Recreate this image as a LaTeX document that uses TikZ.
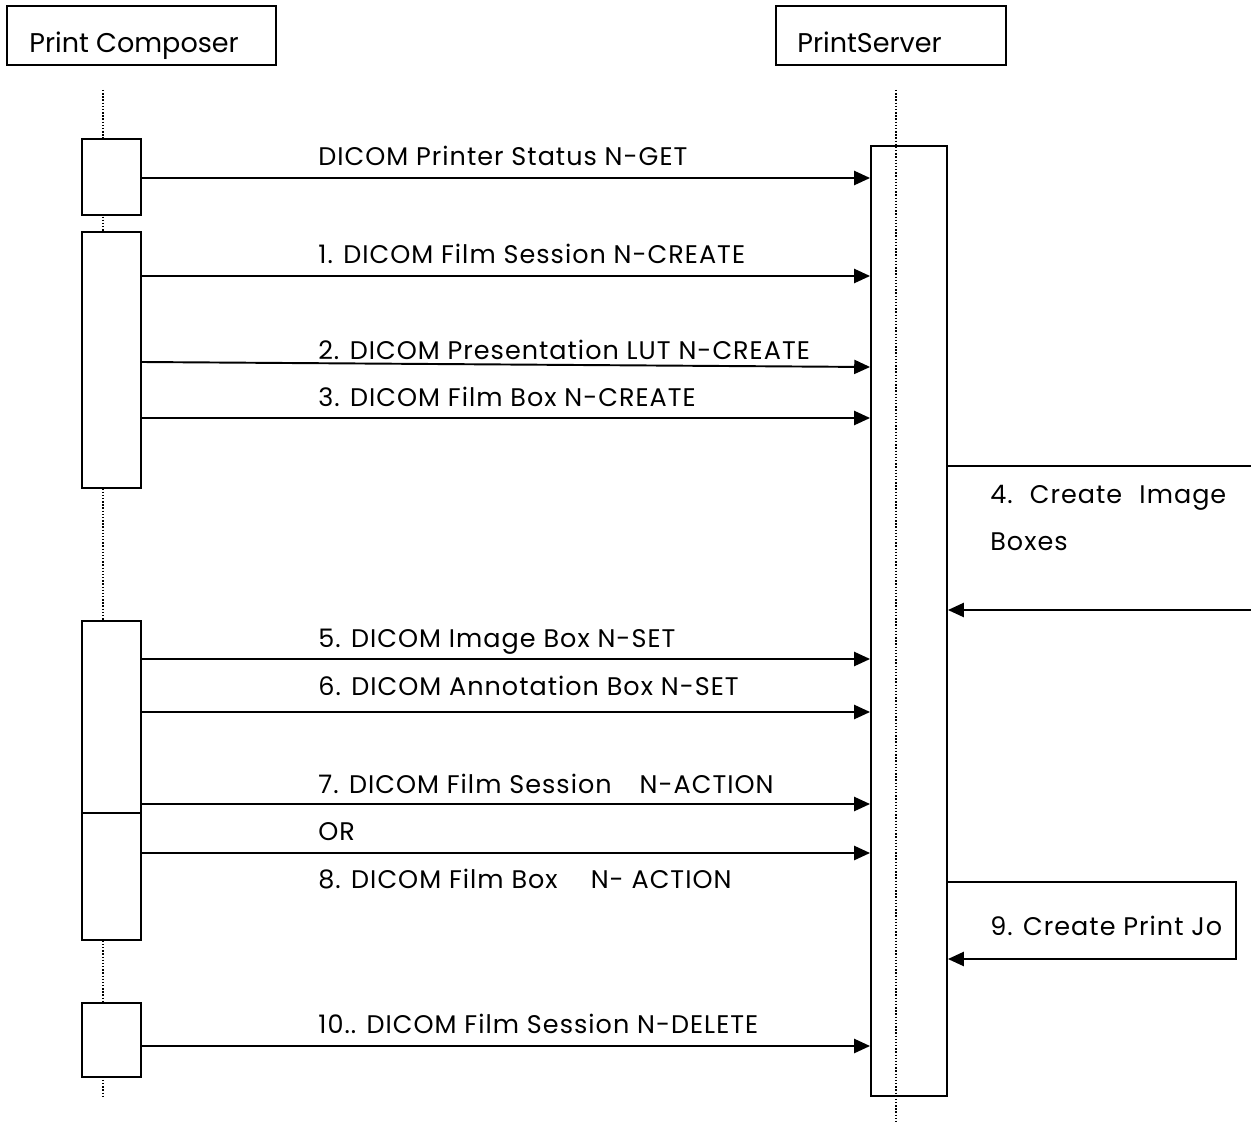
\documentclass[tikz,border=0pt]{standalone}
\usepackage{fontspec}
\setmainfont{Poppins}
\newfontfamily\msgfont[LetterSpace=4]{Poppins}
\usetikzlibrary{arrows.meta,fit}

\tikzset{
  headbox/.style={draw, line width=1.1pt, inner sep=0pt},
  bar/.style={draw, line width=1.1pt, fill=white, inner sep=0pt},
  lifeline/.style={densely dotted, line width=0.8pt},
  msg/.style={-{Triangle[length=9pt,width=8pt]}, line width=1.1pt},
  headtext/.style={anchor=base west, inner sep=0pt, font=\fontsize{15.4}{18}\selectfont},
  msgtext/.style={anchor=base west, inner sep=0pt, font=\msgfont\fontsize{14.5}{17}\selectfont},
}

\begin{document}
\begin{tikzpicture}[x=0.02cm, y=-0.02cm]
    \useasboundingbox (0,0) rectangle (1251,1122);
    % heads
    \node[headbox, fit={(7,6) (276,65)}] (pcHead) {};
    \node[headtext] (pcName) at (29,53) {Print Composer};
    \node[headbox, fit={(776,6) (1006,65)}] (psHead) {};
    \node[headtext] (psName) at (797,53) {PrintServer};
    % lifelines
    \coordinate (pcTop) at (103,90);
    \coordinate (pcEnd) at (103,1096);
    \coordinate (psTop) at (896,90);
    \coordinate (psEnd) at (896,1122);
    \draw[lifeline] (pcTop) -- (pcEnd);
    \draw[lifeline] (psTop) -- (psEnd);
    % activation bars
    \node[bar, fit={(82,139) (141,215)}] (pc1) {};
    \node[bar, fit={(82,232) (141,488)}] (pc2) {};
    \node[bar, fit={(82,621) (141,813)}] (pc3) {};
    \node[bar, fit={(82,813) (141,940)}] (pc4) {};
    \node[bar, fit={(82,1003) (141,1077)}] (pc5) {};
    \node[headbox, fit={(871,146) (947,1096)}] (ps) {};
    % messages
    \draw[msg] (pc1.east |- 0,178) -- (ps.west |- 0,178);
    \draw[msg] (pc2.east |- 0,276) -- (ps.west |- 0,276);
    \draw[msg] (pc2.east |- 0,362) -- (ps.west |- 0,367);
    \draw[msg] (pc2.east |- 0,418) -- (ps.west |- 0,418);
    \draw[msg] (pc3.east |- 0,659) -- (ps.west |- 0,659);
    \draw[msg] (pc3.east |- 0,712) -- (ps.west |- 0,712);
    \draw[msg] (pc3.east |- 0,804) -- (ps.west |- 0,804);
    \draw[msg] (pc4.east |- 0,853) -- (ps.west |- 0,853);
    \draw[msg] (pc5.east |- 0,1046) -- (ps.west |- 0,1046);
    \node[msgtext] (m0) at (318,166) {DICOM Printer Status N-GET};
    \node[msgtext] (m1) at (318,263) {1. DICOM Film Session N-CREATE};
    \node[msgtext] (m2) at (318,359) {2. DICOM Presentation LUT N-CREATE};
    \node[msgtext] (m3) at (318,406) {3. DICOM Film Box N-CREATE};
    \node[msgtext] (m5) at (318,647) {5. DICOM Image Box N-SET};
    \node[msgtext] (m6) at (318,695) {6. DICOM Annotation Box N-SET};
    \node[msgtext] (m7) at (318,793) {7. DICOM Film Session\hspace{1.1em}N-ACTION};
    \node[msgtext] (mOr) at (318,840) {OR};
    \node[msgtext] (m8) at (318,888) {8. DICOM Film Box\hspace{1.3em}N- ACTION};
    \node[msgtext] (m10) at (318,1033) {10.. DICOM Film Session N-DELETE};
    % self messages
    \coordinate (loop4a) at (1256,466);
    \coordinate (loop4b) at (1256,610);
    \draw[msg] (ps.east |- loop4a) -- (loop4a) -- (loop4b) -- (ps.east |- loop4b);
    \node[msgtext, text width=4.72cm, align=justify, font=\msgfont\fontsize{14.5}{27.3}\selectfont\frenchspacing] (m4) at (990,503) {4. Create Image Boxes};
    \coordinate (loop9a) at (1236,882);
    \coordinate (loop9b) at (1236,959);
    \draw[msg] (ps.east |- loop9a) -- (loop9a) -- (loop9b) -- (ps.east |- loop9b);
    \node[msgtext] (m9) at (990,935) {9. Create Print Jo};
\end{tikzpicture}
\end{document}
